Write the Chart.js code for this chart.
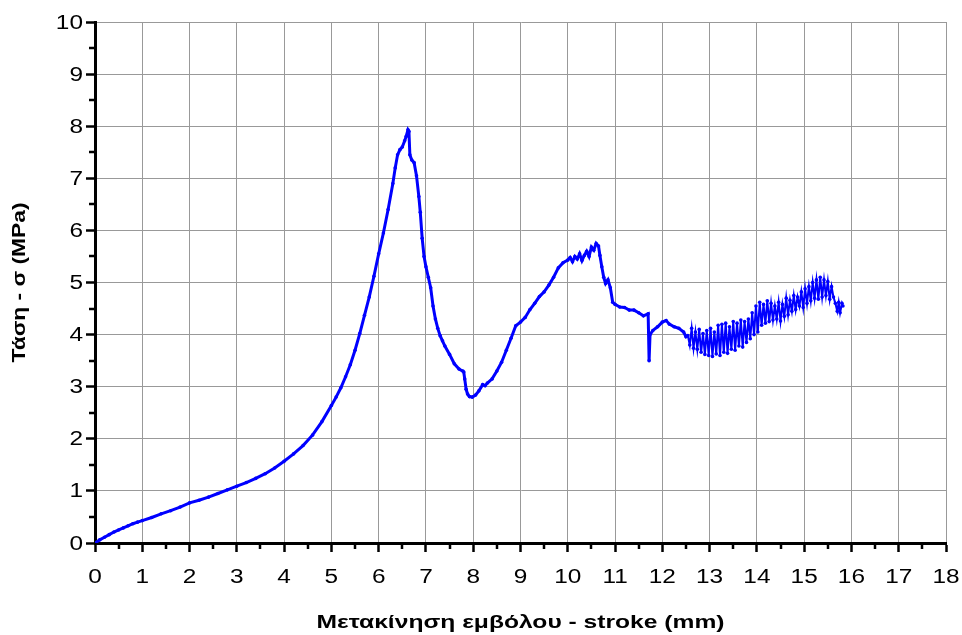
<!DOCTYPE html>
<html>
<head>
<meta charset="utf-8">
<script src="https://cdn.jsdelivr.net/npm/chart.js@4"></script>
<style>
  html, body { margin: 0; padding: 0; background: #fff; }
  canvas { display: block; }
</style>
</head>
<body>
<canvas id="stressChart" width="962" height="635"></canvas>
<script>
// stroke (mm) and stress (MPa) readings of the compression test
const strokeMm = [
  0, 0.1, 0.2, 0.3, 0.4, 0.5, 0.6, 0.7, 0.8, 0.9, 1.0, 1.2, 1.4, 1.6, 1.8, 2.0,
  2.2, 2.4, 2.6, 2.8, 3.0, 3.2, 3.4, 3.6, 3.8, 4.0, 4.2, 4.4, 4.6, 4.8, 5.0,
  5.1, 5.2, 5.3, 5.4, 5.5, 5.6, 5.7, 5.8, 5.9, 6.0, 6.1, 6.2, 6.3, 6.35, 6.4,
  6.45, 6.5, 6.55, 6.58, 6.62, 6.64, 6.66, 6.7, 6.75, 6.8, 6.85, 6.88, 6.92,
  6.96, 7.0, 7.05, 7.1, 7.15, 7.2, 7.25, 7.3, 7.35, 7.4, 7.5, 7.6, 7.7, 7.78,
  7.8, 7.82, 7.85, 7.88, 7.92, 7.98, 8.05, 8.12, 8.2, 8.25, 8.3, 8.4, 8.5, 8.6,
  8.7, 8.8, 8.9, 9.0, 9.1, 9.2, 9.3, 9.4, 9.5, 9.6, 9.7, 9.8, 9.9, 10.0, 10.05,
  10.1, 10.15, 10.2, 10.25, 10.3, 10.35, 10.4, 10.45, 10.5, 10.55, 10.6, 10.65,
  10.68, 10.72, 10.76, 10.8, 10.85, 10.9, 10.95, 11.0, 11.1, 11.2, 11.3, 11.4,
  11.5, 11.6, 11.7, 11.72, 11.74, 11.8, 11.9, 12.0, 12.08, 12.15, 12.25, 12.35,
  12.45, 12.5,
  12.54, 12.58, 12.62, 12.66, 12.70, 12.74, 12.78, 12.82, 12.86, 12.90, 12.94,
  12.98, 13.02, 13.06, 13.10, 13.14, 13.18, 13.22, 13.26, 13.30, 13.34, 13.38,
  13.42, 13.46, 13.50, 13.54, 13.58, 13.62, 13.66, 13.70, 13.74, 13.78, 13.82,
  13.86, 13.90, 13.94, 13.98, 14.02, 14.06, 14.10, 14.14, 14.18, 14.22, 14.26,
  14.30, 14.34, 14.38, 14.42, 14.46, 14.50, 14.54, 14.58, 14.62, 14.66, 14.70,
  14.74, 14.78, 14.82, 14.86, 14.90, 14.94, 14.98, 15.02, 15.06, 15.10, 15.14,
  15.18, 15.22, 15.26, 15.30, 15.34, 15.38, 15.42, 15.46, 15.50, 15.54, 15.58,
  15.62, 15.66, 15.70, 15.73, 15.76, 15.80, 15.82
];
const stressMPa = [
  0, 0.06, 0.11, 0.16, 0.21, 0.25, 0.29, 0.33, 0.37, 0.40, 0.43, 0.49, 0.56, 0.62, 0.69, 0.77,
  0.82, 0.88, 0.95, 1.02, 1.09, 1.16, 1.24, 1.33, 1.44, 1.57, 1.71, 1.87, 2.07, 2.33, 2.64,
  2.80, 2.98, 3.19, 3.42, 3.70, 4.02, 4.37, 4.72, 5.12, 5.55, 5.95, 6.40, 6.90, 7.20, 7.45,
  7.55, 7.60, 7.72, 7.80, 7.93, 7.90, 7.45, 7.35, 7.30, 7.05, 6.65, 6.35, 5.85,
  5.50, 5.30, 5.10, 4.90, 4.55, 4.30, 4.12, 3.98, 3.88, 3.78, 3.62, 3.44, 3.34, 3.30,
  3.28, 3.15, 2.95, 2.86, 2.81, 2.80, 2.84, 2.92, 3.04, 3.02, 3.07, 3.15, 3.30, 3.47,
  3.70, 3.93, 4.17, 4.24, 4.33, 4.48, 4.60, 4.73, 4.82, 4.95, 5.10, 5.28, 5.38, 5.43, 5.48,
  5.40, 5.50, 5.45, 5.55, 5.42, 5.52, 5.60, 5.50, 5.68, 5.62, 5.75, 5.70,
  5.52, 5.30, 5.10, 4.98, 5.05, 4.90, 4.62, 4.58, 4.53, 4.52, 4.47, 4.47,
  4.42, 4.36, 4.40, 3.50, 4.00, 4.08, 4.15, 4.24, 4.27, 4.20, 4.15, 4.12,
  4.05, 3.96,
  3.98, 3.80, 4.12, 3.74, 4.05, 3.72, 4.10, 3.66, 4.02, 3.62, 4.08,
  3.60, 4.12, 3.58, 4.05, 3.63, 4.18, 3.60, 4.20, 3.66, 4.22, 3.64,
  4.15, 3.72, 4.25, 3.70, 4.22, 3.78, 4.28, 3.76, 4.25, 3.85, 4.30,
  3.92, 4.42, 4.00, 4.55, 4.05, 4.62, 4.18, 4.58, 4.22, 4.65, 4.25,
  4.60, 4.28, 4.55, 4.30, 4.62, 4.26, 4.58, 4.35, 4.70, 4.38, 4.66,
  4.45, 4.75, 4.48, 4.72, 4.55, 4.82, 4.52, 4.88, 4.60, 4.92, 4.65,
  5.00, 4.70, 5.05, 4.68, 5.10, 4.72, 5.05, 4.75, 5.02, 4.68, 4.92,
  4.72, 4.60, 4.45, 4.62, 4.42, 4.60, 4.55
];
const xTicks = [0, 1, 2, 3, 4, 5, 6, 7, 8, 9, 10, 11, 12, 13, 14, 15, 16, 17, 18];
const yTicks = [0, 1, 2, 3, 4, 5, 6, 7, 8, 9, 10];
const xTitle = 'Μετακίνηση εμβόλου - stroke (mm)';
const yTitle = 'Τάση - σ (MPa)';

const points = strokeMm.map((x, i) => ({ x: x, y: stressMPa[i] }));

const FONT = 'Arial, "Liberation Sans", sans-serif';

// text drawn wider than the font's natural width
function wideText(ctx, text, px, py, sx, angle) {
  ctx.save();
  ctx.translate(px, py);
  if (angle) ctx.rotate(angle);
  ctx.scale(sx, 1);
  ctx.fillText(text, 0, 0);
  ctx.restore();
}

// short half-step ticks on both axes
const minorTicks = {
  id: 'minorTicks',
  afterDraw(chart) {
    const ctx = chart.ctx;
    const xs = chart.scales.x, ys = chart.scales.y;
    ctx.save();
    ctx.strokeStyle = '#000';
    ctx.lineWidth = 2.5;
    ctx.beginPath();
    for (let i = 0; i < xTicks.length - 1; i++) {
      const px = Math.round(xs.getPixelForValue(xTicks[i] + 0.5));
      ctx.moveTo(px, ys.bottom);
      ctx.lineTo(px, ys.bottom + 6);
    }
    for (let i = 0; i < yTicks.length - 1; i++) {
      const py = Math.round(ys.getPixelForValue(yTicks[i] + 0.5));
      ctx.moveTo(xs.left, py);
      ctx.lineTo(xs.left - 6, py);
    }
    ctx.stroke();
    ctx.restore();
  }
};

// tick numbers and axis titles
const axisText = {
  id: 'axisText',
  afterDraw(chart) {
    const ctx = chart.ctx;
    const xs = chart.scales.x, ys = chart.scales.y;
    ctx.save();
    ctx.fillStyle = '#000';
    ctx.textBaseline = 'middle';
    ctx.font = '20px ' + FONT;
    ctx.textAlign = 'center';
    xTicks.forEach(v => wideText(ctx, String(v), xs.getPixelForValue(v), ys.bottom + 34, 1.22));
    ctx.textAlign = 'right';
    yTicks.forEach(v => wideText(ctx, String(v), xs.left - 12, ys.getPixelForValue(v) + 1, 1.22));

    ctx.font = 'bold 19px ' + FONT;
    ctx.textAlign = 'center';
    const xw = ctx.measureText(xTitle).width;
    wideText(ctx, xTitle, (xs.left + xs.right) / 2, 623, 408 / xw);
    ctx.font = 'bold 19px ' + FONT;
    const yw = ctx.measureText(yTitle).width;
    wideText(ctx, yTitle, 20, (ys.top + ys.bottom) / 2, 160 / yw, -Math.PI / 2);
    ctx.restore();
  }
};

new Chart(document.getElementById('stressChart').getContext('2d'), {
  type: 'scatter',
  data: {
    datasets: [{
      data: points,
      showLine: true,
      borderColor: '#0000ff',
      backgroundColor: '#0000ff',
      borderWidth: 3,
      pointRadius: 1.8,
      pointBorderWidth: 0,
      segment: {
        borderWidth: ctx => (ctx.p0.parsed.x > 12.5 ? 2 : 3)
      }
    }]
  },
  options: {
    responsive: false,
    animation: false,
    layout: { padding: { top: 22, right: 16, left: 0, bottom: 0 } },
    plugins: { legend: { display: false }, tooltip: { enabled: false } },
    scales: {
      x: {
        type: 'linear',
        min: 0,
        max: 18,
        afterFit: scale => { scale.height = 92; },
        afterBuildTicks: scale => { scale.ticks = xTicks.map(v => ({ value: v })); },
        ticks: { display: false },
        grid: { color: '#999', lineWidth: 1, tickColor: '#000', tickLength: 9, tickWidth: 2.5 },
        border: { color: '#000', width: 3 }
      },
      y: {
        type: 'linear',
        min: 0,
        max: 10,
        afterFit: scale => { scale.width = 95; },
        afterBuildTicks: scale => { scale.ticks = yTicks.map(v => ({ value: v })); },
        ticks: { display: false },
        grid: { color: '#999', lineWidth: 1, tickColor: '#000', tickLength: 9, tickWidth: 2.5 },
        border: { color: '#000', width: 3 }
      }
    }
  },
  plugins: [minorTicks, axisText]
});
</script>
</body>
</html>
